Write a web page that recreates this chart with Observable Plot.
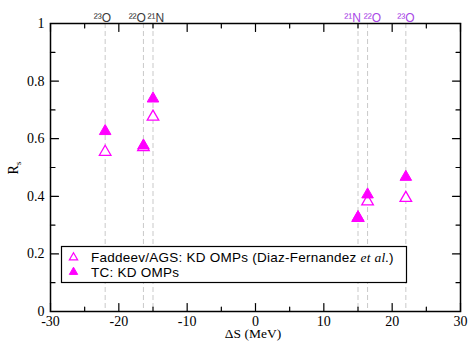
<!DOCTYPE html>
<html>
<head>
<meta charset="utf-8">
<script src="https://cdn.jsdelivr.net/npm/d3@7"></script>
<script src="https://cdn.jsdelivr.net/npm/@observablehq/plot@0.6"></script>
<style>
  html, body { margin: 0; padding: 0; background: #fff; }
</style>
</head>
<body>
<div id="chart"></div>
<script>
// ---- data ----
const deltaS   = [-22, -16.4, -15, 15, 16.4, 22];
const faddeev  = [0.554, 0.57, 0.676, 0.325, 0.382, 0.394];
const tc       = [0.626, 0.576, 0.739, 0.327, 0.406, 0.467];

const nucleusName = ["²³O", "²²O", "²¹N", "²¹N", "²²O", "²³O"];
const nucleusLabelAt = [-22.4, -17.3, -14.6, 14.2, 17.1, 22];

const xMajor = [-30, -20, -10, 0, 10, 20, 30];
const xMinor = [-25, -15, -5, 5, 15, 25];
const yMajor = [0, 0.2, 0.4, 0.6, 0.8, 1];
const yMinor = [0.1, 0.3, 0.5, 0.7, 0.9];

const legendLabels = ["Faddeev/AGS: KD OMPs (Diaz-Fernandez ", "et al.", ")", "TC: KD OMPs"];

// ---- tables ----
const points = deltaS.map((x, i) => ({x, faddeev: faddeev[i], tc: tc[i]}));
const labels = deltaS.map((x, i) => ({at: nucleusLabelAt[i], name: nucleusName[i], side: x < 0 ? "left" : "right"}));

const tickShape = { draw(ctx, l) { ctx.moveTo(0, 0); ctx.lineTo(0, -l); } };
const tickOpts = {anchor: "start", shape: tickShape, stroke: "black", strokeWidth: 1.2};

const magenta = "#ff00ff";

const plot = Plot.plot({
  width: 468,
  height: 341,
  marginLeft: 50,
  marginRight: 8,
  marginTop: 23,
  marginBottom: 30,
  style: {fontFamily: "'Liberation Serif', serif", fontSize: "14px", background: "white", overflow: "visible"},
  x: {domain: [-30, 30], label: null},
  y: {domain: [0, 1], label: null},
  marks: [
    Plot.ruleX(deltaS, {stroke: "#c9c9c9", strokeWidth: 1, strokeDasharray: "5,3"}),
    // inward ticks, four sides
    Plot.vector(xMajor, {x: d => d, frameAnchor: "bottom", length: 8, rotate: 0, ...tickOpts}),
    Plot.vector(xMinor, {x: d => d, frameAnchor: "bottom", length: 4.5, rotate: 0, ...tickOpts}),
    Plot.vector(xMajor, {x: d => d, frameAnchor: "top", length: 8, rotate: 180, ...tickOpts}),
    Plot.vector(xMinor, {x: d => d, frameAnchor: "top", length: 4.5, rotate: 180, ...tickOpts}),
    Plot.vector(yMajor, {y: d => d, frameAnchor: "left", length: 8, rotate: 90, ...tickOpts}),
    Plot.vector(yMinor, {y: d => d, frameAnchor: "left", length: 4.5, rotate: 90, ...tickOpts}),
    Plot.vector(yMajor, {y: d => d, frameAnchor: "right", length: 8, rotate: -90, ...tickOpts}),
    Plot.vector(yMinor, {y: d => d, frameAnchor: "right", length: 4.5, rotate: -90, ...tickOpts}),
    Plot.axisX({ticks: xMajor, tickSize: 0, tickPadding: 5, tickFormat: d => String(d), label: null, fill: "black"}),
    Plot.axisY({ticks: yMajor, tickSize: 0, tickPadding: 6, tickFormat: d => String(d), label: null, fill: "black"}),
    Plot.frame({stroke: "black", strokeWidth: 1.5}),
    Plot.dot(points, {x: "x", y: "faddeev", symbol: "triangle", r: 4.3, fill: "white", stroke: magenta, strokeWidth: 1.3}),
    Plot.dot(points, {x: "x", y: "tc", symbol: "triangle", r: 4.3, fill: magenta, stroke: magenta, strokeWidth: 1}),
    Plot.text(labels.filter(d => d.side === "left"), {x: "at", text: "name", frameAnchor: "top", lineAnchor: "bottom", dy: -2, fill: "#3a3a3a", fontFamily: "'Liberation Sans', sans-serif", fontSize: 12}),
    Plot.text(labels.filter(d => d.side === "right"), {x: "at", text: "name", frameAnchor: "top", lineAnchor: "bottom", dy: -2, fill: "#a846e6", fontFamily: "'Liberation Sans', sans-serif", fontSize: 12})
  ]
});

document.getElementById("chart").appendChild(plot);

// ---- axis titles and legend (layout annotations) ----
const svg = d3.select(plot);

svg.append("text")
  .attr("x", 253).attr("y", 338)
  .attr("text-anchor", "middle")
  .attr("font-family", "'Liberation Serif', serif")
  .attr("font-size", 13.5)
  .attr("fill", "black")
  .text("ΔS (MeV)");

const yl = svg.append("text")
  .attr("transform", "translate(18,168) rotate(-90)")
  .attr("text-anchor", "middle")
  .attr("font-family", "'Liberation Serif', serif")
  .attr("font-size", 14)
  .attr("fill", "black");
yl.append("tspan").text("R");
yl.append("tspan").attr("font-size", 9).attr("dy", 3).text("s");

const lg = svg.append("g");
lg.append("rect")
  .attr("x", 61.5).attr("y", 246.5).attr("width", 345).attr("height", 36)
  .attr("fill", "white").attr("stroke", "black").attr("stroke-width", 1.2);
const tri = d3.symbol(d3.symbolTriangle, 30)();
lg.append("path").attr("d", tri).attr("transform", "translate(73.5,257.5)")
  .attr("fill", "white").attr("stroke", magenta).attr("stroke-width", 1.2);
lg.append("path").attr("d", tri).attr("transform", "translate(73.5,272)")
  .attr("fill", magenta).attr("stroke", magenta).attr("stroke-width", 1);
const t1 = lg.append("text")
  .attr("x", 91).attr("y", 261.5)
  .attr("text-anchor", "start")
  .attr("font-family", "'Liberation Sans', sans-serif")
  .attr("font-size", 13.5).attr("letter-spacing", 0.25)
  .attr("fill", "black");
t1.append("tspan").text(legendLabels[0]);
t1.append("tspan").attr("font-family", "'Liberation Serif', serif").attr("font-style", "italic").text(legendLabels[1]);
t1.append("tspan").text(legendLabels[2]);
lg.append("text")
  .attr("x", 91).attr("y", 276.5)
  .attr("text-anchor", "start")
  .attr("font-family", "'Liberation Sans', sans-serif")
  .attr("font-size", 13.5).attr("letter-spacing", 0.25)
  .attr("fill", "black")
  .text(legendLabels[3]);
</script>
</body>
</html>
